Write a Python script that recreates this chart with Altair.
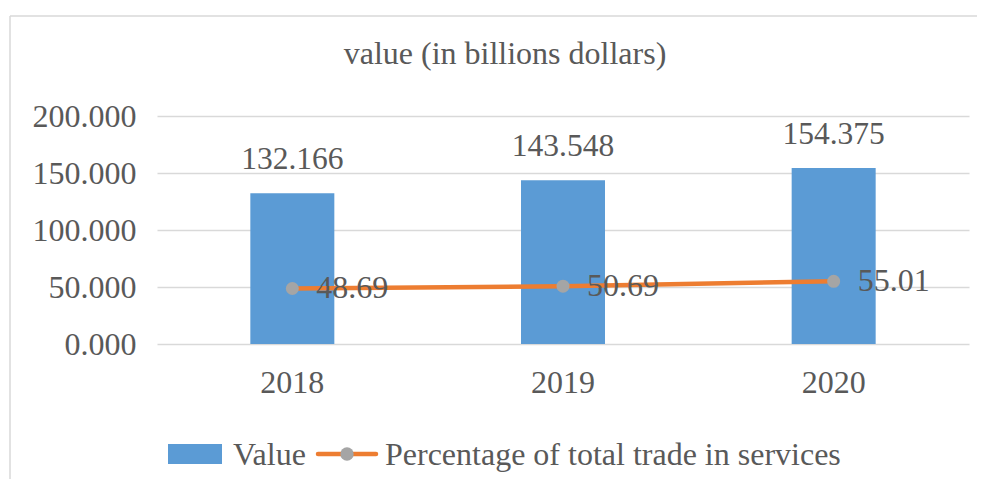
import altair as alt
import pandas as pd

years = ["2018", "2019", "2020"]
values = [132.166, 143.548, 154.375]
percentages = [48.69, 50.69, 55.01]
y_ticks = [0, 50, 100, 150, 200]
title_text = "value (in billions dollars)"
legend_labels = ["Value", "Percentage of total trade in services"]

FONT = "Liberation Serif"
TEXT = "#595959"
BLUE = "#5B9BD5"
ORANGE = "#ED7D31"
GRAY = "#A5A5A5"
GRID = "#D9D9D9"
FS = 32
FS_LEG = 32

df = pd.DataFrame({"year": years, "value": values, "pct": percentages})

x = alt.X(
    "year:N",
    sort=years,
    scale=alt.Scale(type="band", paddingInner=0, paddingOuter=0),
    axis=alt.Axis(title=None, labelAngle=0, ticks=False, domain=False, grid=False,
                  labelPadding=23, labelFontSize=FS, labelFont=FONT, labelColor=TEXT),
)
y_axis = alt.Axis(title=None, values=y_ticks, format=".3f", ticks=False, domain=False,
                  labelPadding=21, gridColor=GRID, gridWidth=1.5, labelFontSize=FS,
                  labelFont=FONT, labelColor=TEXT)
y_scale = alt.Scale(domain=[0, 200], nice=False)

base = alt.Chart(df)
bars = base.mark_bar(width=84, color=BLUE).encode(
    x=x, y=alt.Y("value:Q", scale=y_scale, axis=y_axis))
bar_labels = base.mark_text(dy=-24, baseline="alphabetic", fontSize=31.5, font=FONT, color=TEXT).encode(
    x=x, y=alt.Y("value:Q", scale=y_scale, axis=y_axis), text=alt.Text("value:Q", format=".3f"))
line = base.mark_line(color=ORANGE, strokeWidth=4.5).encode(
    x=x, y=alt.Y("pct:Q", scale=y_scale, axis=y_axis))
points = base.mark_point(filled=True, color=GRAY, size=170, opacity=1).encode(
    x=x, y=alt.Y("pct:Q", scale=y_scale, axis=y_axis))
pct_labels = base.mark_text(align="left", baseline="middle", dx=24, fontSize=FS, font=FONT, color=TEXT).encode(
    x=x, y=alt.Y("pct:Q", scale=y_scale, axis=y_axis), text=alt.Text("pct:Q", format=".2f"))

# manual legend (positions relative to plot area origin)
lg0 = alt.Chart(pd.DataFrame({"label": [legend_labels[0]]}))
lg1 = alt.Chart(pd.DataFrame({"label": [legend_labels[1]]}))
leg_rect = lg0.mark_rect(color=BLUE).encode(
    x=alt.value(11), x2=alt.value(65), y=alt.value(328), y2=alt.value(348))
leg_text0 = lg0.mark_text(align="left", baseline="alphabetic", fontSize=FS_LEG, font=FONT, color=TEXT).encode(
    x=alt.value(76), y=alt.value(349), text="label:N")
leg_rule = lg1.mark_rule(color=ORANGE, strokeWidth=4.5, strokeCap="round").encode(
    x=alt.value(161), x2=alt.value(219), y=alt.value(338))
leg_pt = lg1.mark_point(filled=True, color=GRAY, size=180, opacity=1).encode(
    x=alt.value(190), y=alt.value(338))
leg_text1 = lg1.mark_text(align="left", baseline="alphabetic", fontSize=FS_LEG, font=FONT, color=TEXT).encode(
    x=alt.value(228), y=alt.value(349), text="label:N")

# chart border (left and top edges)
border_left = lg0.mark_rule(color=GRID, strokeWidth=1.5).encode(
    x=alt.value(-147), y=alt.value(-100), y2=alt.value(400))
border_top = lg0.mark_rule(color=GRID, strokeWidth=1.5).encode(
    x=alt.value(-147), x2=alt.value(850), y=alt.value(-100))

chart = alt.layer(
    border_left, border_top, bars, bar_labels, line, points, pct_labels,
    leg_rect, leg_text0, leg_rule, leg_pt, leg_text1,
).properties(
    width=812,
    height=228,
    padding={"left": 149, "top": 108, "right": 8, "bottom": 135},
    autosize=alt.AutoSizeParams(type="none"),
    title=alt.TitleParams(title_text, font=FONT, fontSize=FS, fontWeight="normal", color=TEXT,
                          frame="group", anchor="middle", dx=-58, baseline="alphabetic", dy=85),
    background="white",
).configure_view(stroke=None)

chart.save("out.html", embed_options={"renderer": "svg", "actions": False})
